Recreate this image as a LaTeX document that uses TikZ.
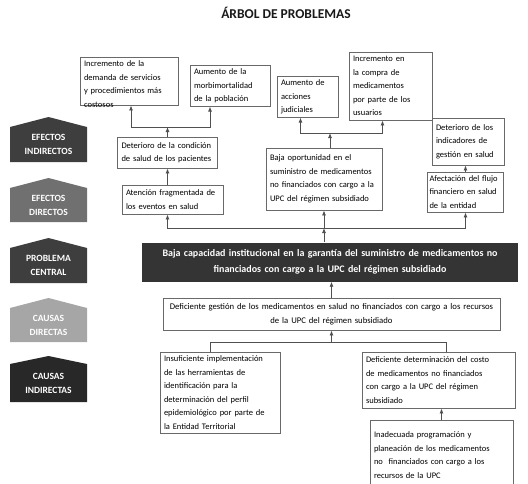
\documentclass[tikz,border=0pt]{standalone}
\usepackage{fontspec}
\setmainfont{Carlito}
\usetikzlibrary{arrows.meta}
\definecolor{GrisOscuro}{RGB}{62,62,62}
\definecolor{GrisMedio}{RGB}{112,112,112}
\definecolor{GrisClaro}{RGB}{166,166,166}
\definecolor{GrisNegro}{RGB}{40,40,40}
\definecolor{GrisCentral}{RGB}{52,52,52}
\definecolor{GrisBorde}{RGB}{105,105,105}
\definecolor{GrisLinea}{RGB}{80,80,80}
\tikzset{
  titulo/.style={font=\bfseries\fontsize{13.5}{15}\selectfont,text=black!90},
  caja/.style={draw=GrisBorde,fill=white,line width=0.9pt,align=left,
    inner xsep=4pt,inner ysep=3pt,font=\fontsize{8.5}{13.5}\selectfont},
  central/.style={fill=GrisCentral,text=white,align=center,inner sep=0pt,
    font=\bfseries\fontsize{10}{15.5}\selectfont},
  causa/.style={caja,align=center,font=\fontsize{8.7}{14}\selectfont},
  etiqueta/.style={text=white,align=center,inner sep=0pt,
    font=\bfseries\fontsize{9.5}{14}\selectfont},
  linea/.style={draw=GrisLinea,line width=0.8pt},
  flecha/.style={linea,-{Latex[length=5pt,width=4pt]}}
}
\newcommand{\nivel}[6]{%
  \fill[#2] (10,#4) -- (48.5,#3) -- (87,#4) -- (87,#5) -- (10,#5) -- cycle;
  \node[etiqueta] (#1) at (48.5,{(#4+#5)/2}) {#6};
}

\begin{document}
\begin{tikzpicture}[x=1pt,y=-1pt]
  \useasboundingbox (0,0) rectangle (528,483);
  \node[titulo] (titulo) at (286,13) {ÁRBOL DE PROBLEMAS};

  \nivel{efind}{GrisOscuro}{117}{127}{162}{EFECTOS\\INDIRECTOS}
  \nivel{efdir}{GrisMedio}{178}{188}{222}{EFECTOS\\DIRECTOS}
  \nivel{probl}{GrisOscuro}{238}{248}{283}{PROBLEMA\\CENTRAL}
  \nivel{caudir}{GrisClaro}{298}{308}{342}{CAUSAS\\DIRECTAS}
  \nivel{cauind}{GrisNegro}{356}{364}{402}{CAUSAS\\INDIRECTAS}

  \node[caja,text width=90pt,text height=6.5pt,text depth=35.5pt] (demanda) at (129,81)
    {Incremento de la\\ demanda de servicios\\ y procedimientos más\\ costosos};
  \node[caja,text width=72pt,minimum height=38pt] (morbi) at (230,86)
    {Aumento de la\\ morbimortalidad\\ de la población};
  \node[caja,text width=53pt,minimum height=40pt] (judiciales) at (307.5,97)
    {Aumento de\\ acciones\\ judiciales};
  \node[caja,text width=75pt,minimum height=68pt] (compra) at (390.5,86)
    {Incremento en\\ la compra de\\ medicamentos\\ por parte de los\\ usuarios};
  \node[caja,text width=64pt,minimum height=47pt] (indicadores) at (468,141.5)
    {Deterioro de los\\ indicadores de\\ gestión en salud};
  \node[caja,text width=92pt,minimum height=31pt] (condicion) at (167.5,152.5)
    {Deterioro de la condición\\ de salud de los pacientes};
  \node[caja,text width=108pt,minimum height=62pt] (oportunidad) at (324,179)
    {Baja oportunidad en el\\ suministro de medicamentos\\ no financiados con cargo a la\\ UPC del régimen subsidiado};
  \node[caja,text width=93pt,minimum height=29pt] (atencion) at (172.5,199.5)
    {Atención fragmentada de\\ los eventos en salud};
  \node[caja,text width=72pt,inner xsep=2pt,minimum height=40pt] (flujo) at (465.5,192)
    {Afectación del flujo\\ financiero en salud\\ de la entidad};

  \node[central,text width=376pt,minimum width=376pt,minimum height=39pt] (central) at (330,262)
    {Baja capacidad institucional en la garantía del suministro de medicamentos no\\ financiados con cargo a la UPC del régimen subsidiado};

  \node[causa,text width=329pt,minimum height=32pt] (gestion) at (331.5,314)
    {Deficiente gestión de los medicamentos en salud no financiados con cargo a los recursos\\ de la UPC del régimen subsidiado};
  \node[caja,text width=112pt,minimum height=81pt] (perfil) at (220,392.5)
    {Insuficiente implementación\\ de las herramientas de\\ identificación para la\\ determinación del perfil\\ epidemiológico por parte de\\ la Entidad Territorial};
  \node[caja,text width=145pt,minimum height=56pt] (costo) at (438.5,380)
    {Deficiente determinación del costo\\ de medicamentos no financiados\\ con cargo a la UPC del régimen\\ subsidiado};
  \node[caja,text width=135pt,minimum height=70pt] (programacion) at (441.5,455)
    {Inadecuada programación y\\ planeación de los medicamentos\\ no\ \ financiados con cargo a los\\ recursos de la UPC};

  \coordinate (n1) at (167.5,127);
  \draw[flecha] (condicion.north) -- (n1);
  \draw[flecha] (n1) -| ([xshift=2]demanda.south);
  \draw[flecha] (n1) -| ([xshift=-20]morbi.south);
  \coordinate (n2) at (330,133);
  \draw[flecha] ([xshift=6]oportunidad.north) -- (n2);
  \draw[flecha] (n2) -| ([xshift=-7]judiciales.south);
  \draw[flecha] (n2) -| ([xshift=-8]compra.south);
  \draw[flecha] (atencion.north -| condicion.south) -- (condicion.south);
  \draw[flecha] (flujo.north) -- (flujo.north |- indicadores.south);

  \coordinate (bus) at (oportunidad.south |- 0,228);
  \draw[flecha] (central.north -| bus) -- (bus);
  \draw[flecha] (bus) -- (oportunidad.south);
  \draw[flecha] (bus) -| (atencion.south -| condicion.north);
  \draw[flecha] (bus) -| (flujo.south);
  \draw[flecha] (gestion.north) -- (gestion.north |- central.south);

  \coordinate (bus2) at (gestion.south |- 0,342);
  \coordinate (b2l) at (210,342);
  \coordinate (b2r) at (446,342);
  \draw[flecha] (bus2) -- (gestion.south);
  \draw[linea] (perfil.north -| b2l) |- (b2r) -- (costo.north -| b2r);
  \draw[flecha] (programacion.north) -- (programacion.north |- costo.south);
\end{tikzpicture}
\end{document}
